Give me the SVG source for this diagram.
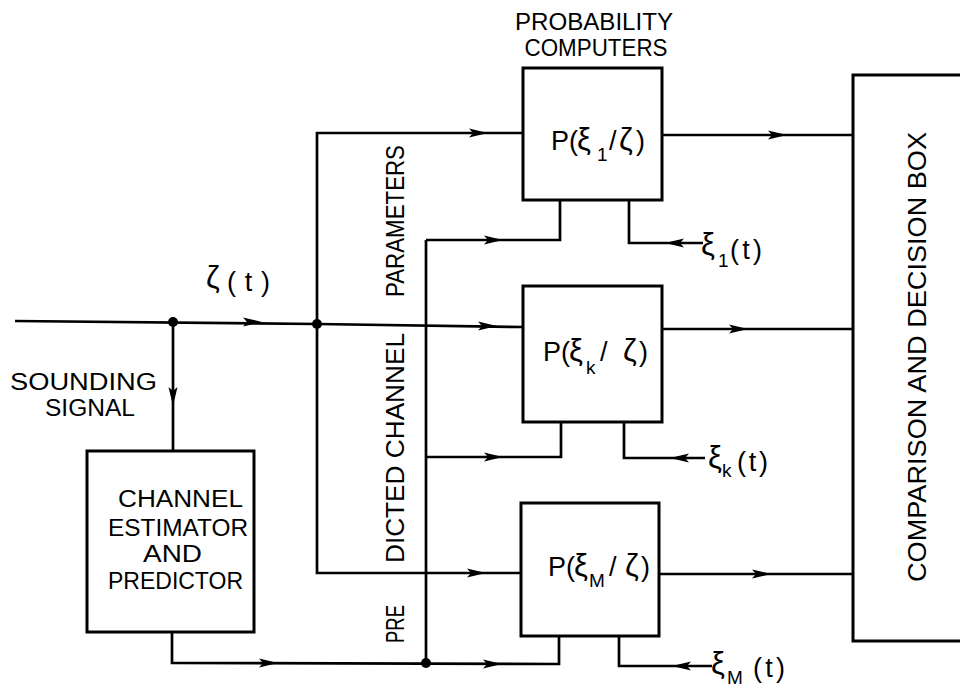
<svg xmlns="http://www.w3.org/2000/svg" xmlns:xlink="http://www.w3.org/1999/xlink" width="960" height="690" viewBox="0 0 960 690">
<style>
.box{fill:#fff;stroke:#000;stroke-width:3}
.ln{fill:none;stroke:#000;stroke-width:2.7;stroke-linejoin:miter}
text{font-family:"Liberation Sans",Arial,sans-serif;fill:#000}
.t{font-size:26px}
.s{font-size:23px}
.lb{font-size:27px}
.gr{font-size:31px}
.sub{font-size:19px}
.dot{fill:#000}
</style>
<defs>
<path id="arr" d="M0,0 L-19,-4.5 L-15,0 L-19,4.5 Z" fill="#000"/>
</defs>
<rect width="960" height="690" fill="#fff"/>

<g id="connectors">
<polyline class="ln" points="15,321 317,324 523,327"/>
<line class="ln" x1="173" y1="322" x2="173" y2="451"/>
<polyline class="ln" points="523,133 317,133 317,573 521,573"/>
<polyline class="ln" points="172,632 172,663 559,664 559,636"/>
<line class="ln" x1="426" y1="240" x2="426" y2="663"/>
<polyline class="ln" points="426,240 560,240 560,200"/>
<polyline class="ln" points="426,457 561,457 561,422"/>
<polyline class="ln" points="703,243 629,243 629,200"/>
<polyline class="ln" points="705,458 624,458 624,422"/>
<polyline class="ln" points="712,666 619,666 619,636"/>
<line class="ln" x1="662" y1="135" x2="853" y2="135"/>
<line class="ln" x1="662" y1="329" x2="853" y2="329"/>
<line class="ln" x1="659" y1="574" x2="853" y2="574"/>
<use xlink:href="#arr" transform="translate(262,322)"/>
<use xlink:href="#arr" transform="translate(173,406) rotate(90)"/>
<use xlink:href="#arr" transform="translate(488,133)"/>
<use xlink:href="#arr" transform="translate(503,240)"/>
<use xlink:href="#arr" transform="translate(497,326)"/>
<use xlink:href="#arr" transform="translate(503,457)"/>
<use xlink:href="#arr" transform="translate(486,573)"/>
<use xlink:href="#arr" transform="translate(278,663)"/>
<use xlink:href="#arr" transform="translate(502,664)"/>
<use xlink:href="#arr" transform="translate(787,135)"/>
<use xlink:href="#arr" transform="translate(748,329)"/>
<use xlink:href="#arr" transform="translate(771,574)"/>
<use xlink:href="#arr" transform="translate(665,243) rotate(180)"/>
<use xlink:href="#arr" transform="translate(670,458) rotate(180)"/>
<use xlink:href="#arr" transform="translate(672,666) rotate(180)"/>
<circle class="dot" cx="173" cy="322" r="5"/>
<circle class="dot" cx="317" cy="324" r="5"/>
<circle class="dot" cx="426" cy="663" r="5"/>
</g>

<g id="title">
<text class="s" x="594" y="30" text-anchor="middle" textLength="158" lengthAdjust="spacingAndGlyphs">PROBABILITY</text>
<text class="s" x="596" y="56" text-anchor="middle" textLength="143" lengthAdjust="spacingAndGlyphs">COMPUTERS</text>
</g>

<g id="box1">
<rect class="box" x="523" y="68" width="139" height="132"/>
<text class="lb" y="150"><tspan x="551">P(</tspan><tspan class="gr" x="577">ξ</tspan><tspan class="sub" x="597" y="161">1</tspan><tspan x="609" y="150">/</tspan><tspan class="gr" x="619">ζ</tspan><tspan x="636">)</tspan></text>
</g>

<g id="box2">
<rect class="box" x="523" y="286" width="139" height="136"/>
<text class="lb" y="361"><tspan x="543">P(</tspan><tspan class="gr" x="569">ξ</tspan><tspan class="sub" x="586" y="374">k</tspan><tspan x="600" y="361">/</tspan><tspan class="gr" x="623">ζ</tspan><tspan x="639">)</tspan></text>
</g>

<g id="box3">
<rect class="box" x="521" y="503" width="138" height="133"/>
<text class="lb" y="576"><tspan x="548">P(</tspan><tspan class="gr" x="574">ξ</tspan><tspan class="sub" x="589" y="587">M</tspan><tspan x="609" y="576">/</tspan><tspan class="gr" x="625">ζ</tspan><tspan x="641">)</tspan></text>
</g>

<g id="estimator">
<rect class="box" x="87" y="451" width="167" height="181"/>
<text class="s" x="180.5" y="507" text-anchor="middle" textLength="125" lengthAdjust="spacingAndGlyphs">CHANNEL</text>
<text class="s" x="178" y="536" text-anchor="middle" textLength="140" lengthAdjust="spacingAndGlyphs">ESTIMATOR</text>
<text class="s" x="172.5" y="562" text-anchor="middle" textLength="59" lengthAdjust="spacingAndGlyphs">AND</text>
<text class="s" x="175.5" y="589" text-anchor="middle" textLength="135" lengthAdjust="spacingAndGlyphs">PREDICTOR</text>
</g>

<g id="decision">
<rect class="box" x="853" y="75" width="120" height="566"/>
<text class="t" transform="translate(926,357) rotate(-90)" text-anchor="middle" textLength="450" lengthAdjust="spacingAndGlyphs">COMPARISON AND DECISION BOX</text>
</g>

<g id="labels">
<text class="s" x="83.5" y="390" text-anchor="middle" textLength="147" lengthAdjust="spacingAndGlyphs">SOUNDING</text>
<text class="s" x="90" y="416" text-anchor="middle" textLength="90" lengthAdjust="spacingAndGlyphs">SIGNAL</text>
<text class="gr" x="206" y="288">ζ</text>
<text class="lb" x="227" y="291" textLength="43" lengthAdjust="spacing">(t)</text>
<text class="t" transform="translate(404,221) rotate(-90)" text-anchor="middle" textLength="152" lengthAdjust="spacingAndGlyphs">PARAMETERS</text>
<text class="t" transform="translate(404,448) rotate(-90)" text-anchor="middle" textLength="230" lengthAdjust="spacingAndGlyphs">DICTED CHANNEL</text>
<text class="t" transform="translate(404,624) rotate(-90)" text-anchor="middle" textLength="38" lengthAdjust="spacingAndGlyphs">PRE</text>
<text y="255"><tspan class="gr" x="701">ξ</tspan><tspan class="sub" x="718" y="267">1</tspan></text>
<text class="lb" x="730" y="259" textLength="32" lengthAdjust="spacing">(t)</text>
<text y="468"><tspan class="gr" x="708">ξ</tspan><tspan class="sub" x="722" y="477">k</tspan></text>
<text class="lb" x="737" y="471" textLength="31" lengthAdjust="spacing">(t)</text>
<text y="674"><tspan class="gr" x="711">ξ</tspan><tspan class="sub" x="727" y="684">M</tspan></text>
<text class="lb" x="753" y="677" textLength="32" lengthAdjust="spacing">(t)</text>
</g>
</svg>
